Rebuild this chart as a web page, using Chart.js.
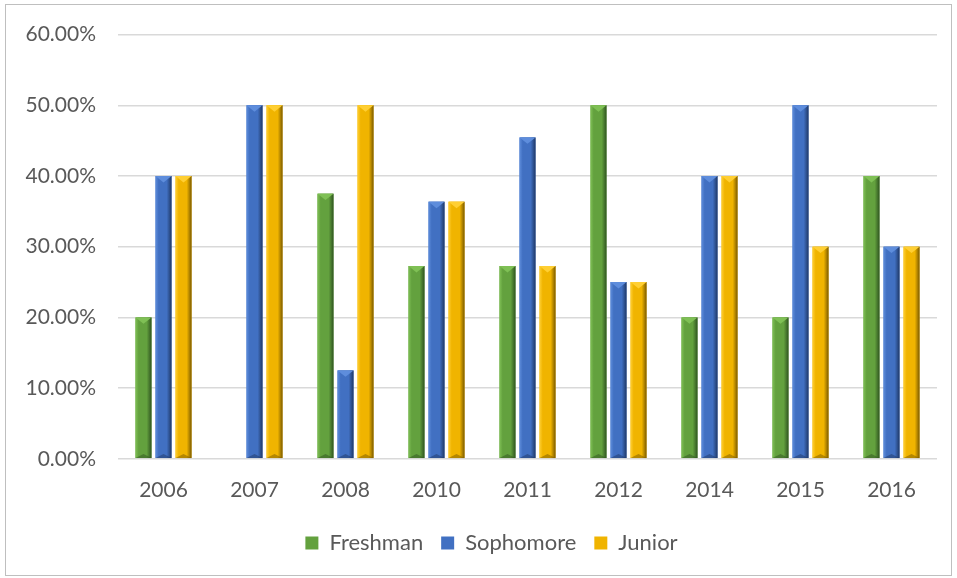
<!DOCTYPE html>
<html>
<head>
<meta charset="utf-8">
<script src="https://cdn.jsdelivr.net/npm/chart.js@4.4.1/dist/chart.umd.min.js"></script>
<style>
  body { margin: 0; background: #fff; }
  #wrap { position: absolute; left: 0; top: 0; width: 957px; height: 578px; }
  #frame { position: absolute; left: 5px; top: 4px; width: 945px; height: 570px; border: 1px solid #bfbfbf; pointer-events: none; }
</style>
</head>
<body>
<div id="wrap">
  <canvas id="myChart" width="957" height="578"></canvas>
  <div id="frame"></div>
</div>
<script>
// years on the x axis
var years = ['2006', '2007', '2008', '2010', '2011', '2012', '2014', '2015', '2016']

// share of each class per year (0..1)
var freshman  = [0.20, 0.00, 0.375, 0.2727, 0.2727, 0.50, 0.20, 0.20, 0.40]
var sophomore = [0.40, 0.50, 0.125, 0.3636, 0.4545, 0.25, 0.40, 0.50, 0.30]
var junior    = [0.40, 0.50, 0.50,  0.3636, 0.2727, 0.25, 0.40, 0.30, 0.30]

// y axis ticks
var yTicks = [0, 0.1, 0.2, 0.3, 0.4, 0.5, 0.6]

var colors = {
  green:  { base: '#63a13e', light: '#7fc055', dark: '#2f5420' },
  blue:   { base: '#4170c2', light: '#5e8ddc', dark: '#1f3866' },
  yellow: { base: '#f0b400', light: '#ffcf33', dark: '#7a5a00' }
}

// draws the beveled look on top of each bar
var bevel = {
  id: 'bevel',
  afterLayout: function(chart) {
    // legend sits a bit right of the canvas centre
    chart.legend.left += 36
  },
  afterDatasetsDraw: function(chart) {
    var ctx = chart.ctx
    chart.data.datasets.forEach(function(ds, i) {
      var c = ds.bevel
      chart.getDatasetMeta(i).data.forEach(function(bar) {
        var w = bar.width, l = bar.x - w / 2, r = bar.x + w / 2
        var top = bar.y, bot = bar.base
        if (bot - top < 1) return
        ctx.save()
        var g = ctx.createLinearGradient(l, 0, r, 0)
        g.addColorStop(0, c.light)
        g.addColorStop(0.2, c.base)
        g.addColorStop(0.7, c.base)
        g.addColorStop(1, c.dark)
        ctx.fillStyle = g
        ctx.fillRect(l, top, w, bot - top)
        var d = Math.min(w / 2, (bot - top) / 2)
        // top bevel
        ctx.fillStyle = c.light
        ctx.beginPath()
        ctx.moveTo(l, top); ctx.lineTo(r, top); ctx.lineTo(bar.x, top + d * 0.8); ctx.closePath()
        ctx.fill()
        // bottom bevel
        ctx.fillStyle = c.dark
        ctx.globalAlpha = 0.5
        ctx.beginPath()
        ctx.moveTo(l, bot); ctx.lineTo(r, bot); ctx.lineTo(bar.x, bot - d * 0.5); ctx.closePath()
        ctx.fill()
        ctx.restore()
      })
    })
  }
}

var ctx = document.getElementById('myChart').getContext('2d')
var chart = new Chart(ctx, {
  type: 'bar',
  data: {
    labels: years,
    datasets: [
      { label: 'Freshman', data: freshman, backgroundColor: colors.green.base, bevel: colors.green },
      { label: 'Sophomore', data: sophomore, backgroundColor: colors.blue.base, bevel: colors.blue },
      { label: 'Junior', data: junior, backgroundColor: colors.yellow.base, bevel: colors.yellow }
    ]
  },
  options: {
    responsive: false,
    animation: false,
    datasets: { bar: { barPercentage: 0.8, categoryPercentage: 0.66 } },
    layout: { padding: { left: 10, right: 20, top: 28, bottom: 14 } },
    scales: {
      x: {
        grid: { display: false },
        border: { display: false },
        ticks: { color: '#595959', font: { family: 'Lato', size: 21 }, padding: 11 }
      },
      y: {
        min: 0, max: 0.6,
        afterBuildTicks: function(axis) { axis.ticks = yTicks.map(function(v) { return { value: v } }) },
        afterFit: function(axis) { axis.width = 108 },
        grid: { color: '#d9d9d9', lineWidth: 1.5, drawTicks: false },
        border: { display: false },
        ticks: {
          color: '#595959', font: { family: 'Lato', size: 21 }, padding: 22,
          callback: function(v) { return (v * 100).toFixed(2) + '%' }
        }
      }
    },
    plugins: {
      legend: {
        position: 'bottom',
        labels: { color: '#595959', font: { family: 'Lato', size: 22 }, boxWidth: 13, boxHeight: 13, padding: 18 }
      },
      tooltip: { enabled: false }
    }
  },
  plugins: [bevel]
})
</script>
</body>
</html>
